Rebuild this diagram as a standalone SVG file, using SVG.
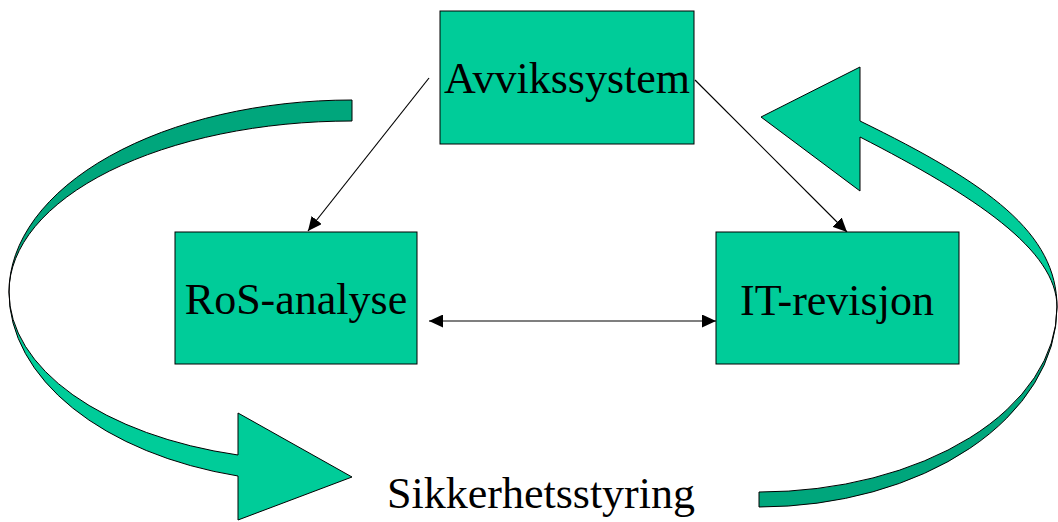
<svg xmlns="http://www.w3.org/2000/svg" width="1058" height="522" viewBox="0 0 1058 522">
  <style>
    .box { fill: #00CC99; stroke: #000; stroke-width: 1; }
    .lbl { font-family: "Liberation Serif", "Times New Roman", serif; font-size: 44px; fill: #000; text-anchor: middle; }
    .band-light { fill: #00CC99; stroke: #000; stroke-width: 1; stroke-linejoin: miter; }
    .band-dark { fill: #00A67C; stroke: #000; stroke-width: 1; }
    .conn { stroke: #000; stroke-width: 1.2; fill: none; }
  </style>
  <defs>
    <marker id="ah" viewBox="0 0 14 13" refX="14" refY="6.5" markerWidth="14" markerHeight="13" markerUnits="userSpaceOnUse" orient="auto-start-reverse">
      <path d="M0,0 L14,6.5 L0,13 Z" fill="#000"/>
    </marker>
  </defs>
  <rect width="1058" height="522" fill="#fff"/>

  <g id="cycle-left">
    <path class="band-dark" d="M352,100 A343,192 0 0 0 9,292 A343,171 0 0 1 352,121 Z"/>
    <path class="band-light" d="M9,292 A307.6,190 0 0 0 238,476 L238,520 L352,477 L238,413 L238,455 A307.6,168.6 0 0 1 9,292 Z"/>
  </g>
  <g id="cycle-right">
    <path class="band-dark" d="M759,507 A298,200 0 0 0 1057,307 A298,185 0 0 1 759,492 Z"/>
    <path class="band-light" d="M1057,307 C1057,233 989,184 860,121 L860,67 L761,117 L860,191 L860,137 C975,196 1057,250 1057,307 Z"/>
  </g>

  <g id="connectors">
    <line class="conn" x1="429" y1="78" x2="308" y2="231" marker-end="url(#ah)"/>
    <line class="conn" x1="695" y1="80" x2="847" y2="232" marker-end="url(#ah)"/>
    <line class="conn" x1="429" y1="321" x2="716" y2="321" marker-start="url(#ah)" marker-end="url(#ah)"/>
  </g>

  <g id="avvikssystem">
    <rect class="box" x="440" y="11" width="254" height="133"/>
    <text class="lbl" x="567" y="93">Avvikssystem</text>
  </g>
  <g id="ros-analyse">
    <rect class="box" x="175" y="232" width="242" height="132"/>
    <text class="lbl" x="296" y="314">RoS-analyse</text>
  </g>
  <g id="it-revisjon">
    <rect class="box" x="716" y="232" width="243" height="132"/>
    <text class="lbl" x="837" y="315">IT-revisjon</text>
  </g>
  <g id="sikkerhetsstyring">
    <text class="lbl" x="541" y="508">Sikkerhetsstyring</text>
  </g>
</svg>
